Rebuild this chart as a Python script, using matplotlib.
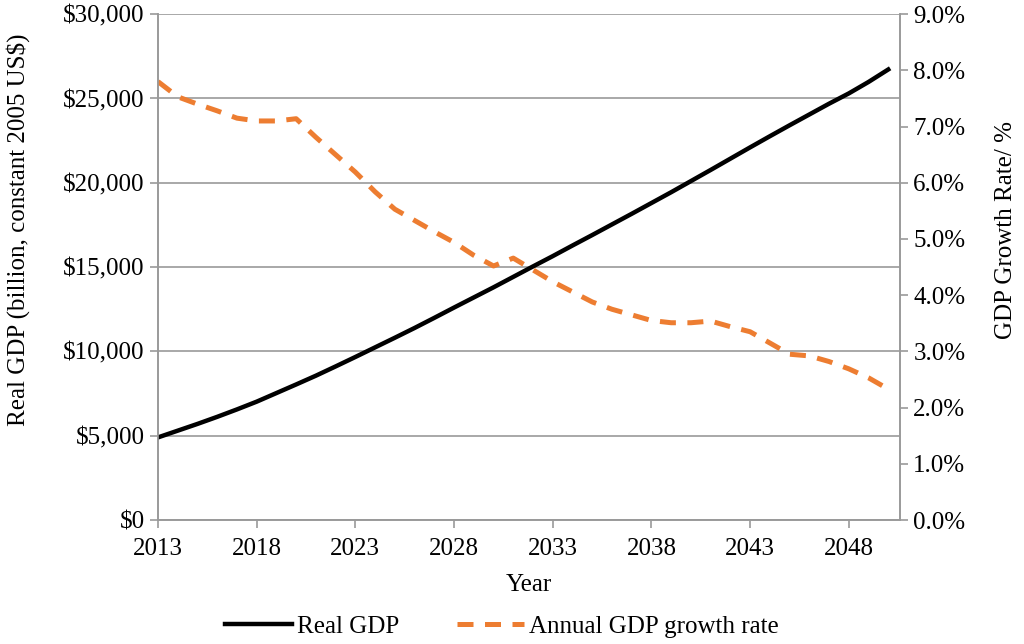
import matplotlib.pyplot as plt
from matplotlib.ticker import FuncFormatter, MultipleLocator

plt.rcParams["font.family"] = ["Liberation Serif", "DejaVu Serif"]

years = list(range(2013, 2051))
real_gdp = [
    4900, 5300, 5700, 6120, 6560, 7020, 7530, 8040, 8560, 9110,
    9670, 10240, 10810, 11390, 11990, 12600, 13200, 13800, 14420, 15040,
    15650, 16280, 16900, 17530, 18160, 18800, 19440, 20100, 20760, 21430,
    22100, 22760, 23410, 24050, 24690, 25300, 25980, 26720,
]
growth_rate = [
    7.80, 7.53, 7.40, 7.28, 7.15, 7.10, 7.10, 7.14, 6.81, 6.50,
    6.19, 5.84, 5.53, 5.33, 5.13, 4.94, 4.71, 4.52, 4.66, 4.45,
    4.24, 4.06, 3.88, 3.75, 3.65, 3.55, 3.51, 3.51, 3.54, 3.44,
    3.35, 3.15, 2.95, 2.92, 2.82, 2.69, 2.53, 2.33,
]
year_ticks = [2013, 2018, 2023, 2028, 2033, 2038, 2043, 2048]

GRAY = "#9a9a9a"
ORANGE = "#ed7d31"
FS = 18

fig = plt.figure(figsize=(10.24, 6.44), dpi=100)
ax = fig.add_axes([0.1543, 0.1925, 0.7247, 0.7855])
ax2 = ax.twinx()

(l1,) = ax.plot(years, real_gdp, color="black", lw=3.2, label="Real GDP", zorder=3)
(l2,) = ax2.plot(years, growth_rate, color=ORANGE, lw=3.6, linestyle=(0, (3.2, 2.3)),
                 label="Annual GDP growth rate")

ax.set_xlim(2013, 2050.6)
ax.set_ylim(0, 30000)
ax2.set_ylim(0, 9)
ax.set_xticks(year_ticks)
ax.yaxis.set_major_locator(MultipleLocator(5000))
ax2.yaxis.set_major_locator(MultipleLocator(1))
ax.yaxis.set_major_formatter(FuncFormatter(lambda v, p: f"${v:,.0f}"))
ax2.yaxis.set_major_formatter(FuncFormatter(lambda v, p: f"{v:.1f}%"))

ax.grid(axis="y", color=GRAY, lw=1.2)
ax.set_axisbelow(True)
for a in (ax, ax2):
    a.spines["top"].set_visible(False)
    for side in ("left", "right", "bottom"):
        a.spines[side].set_color(GRAY)
        a.spines[side].set_linewidth(1.2)
    a.tick_params(colors=GRAY, labelcolor="black", labelsize=FS, length=6, width=1.2)
ax.tick_params(axis="x", pad=7)

ax.set_xlabel("Year", fontsize=FS, labelpad=10)
ax.set_ylabel("Real GDP (billion, constant 2005 US$)", fontsize=FS)
ax2.set_ylabel("GDP Growth Rate/ %", fontsize=FS)
ax.yaxis.set_label_coords(-0.172, 0.573)
ax2.yaxis.set_label_coords(1.128, 0.573)

fig.legend(handles=[l1, l2], loc="lower center", bbox_to_anchor=(0.49, -0.025),
           ncol=2, frameon=False, fontsize=FS, handlelength=2.7,
           handletextpad=0.2, columnspacing=2.3)

fig.savefig("out.png", dpi=100)
